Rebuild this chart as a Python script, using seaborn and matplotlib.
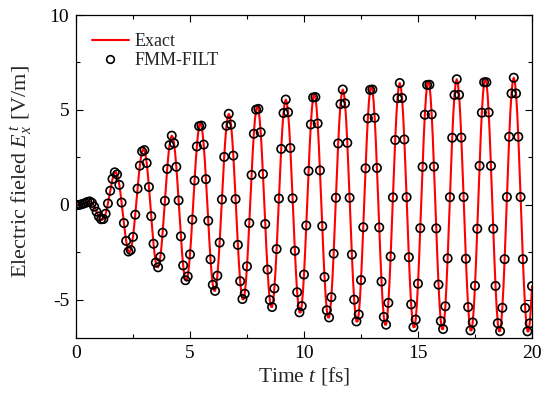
import numpy as np
import pandas as pd
import matplotlib
matplotlib.use("Agg")
import matplotlib.pyplot as plt
from matplotlib.lines import Line2D
from matplotlib.ticker import MultipleLocator
import seaborn as sns

# ---- data ----
t_start, t_end = 0.0, 20.0          # fs
exact_field = [
    0.00, 0.00, 0.00, 0.00, 0.02, 0.03, 0.06, 0.08, 0.10,
    0.12, 0.16, 0.19, 0.19, 0.17, 0.11, 0.03, -0.09, -0.21, -0.35, -0.49, -0.60, -0.69, -0.75, -0.78, -0.74, -0.64, -0.46, -0.22, 0.08, 0.41, 0.75, 1.08, 1.37, 1.59,
    1.72, 1.73, 1.61, 1.39, 1.06, 0.63, 0.13, -0.40, -0.95, -1.45, -1.89, -2.24, -2.45, -2.50, -2.37, -2.10, -1.68, -1.13, -0.51, 0.17, 0.86, 1.51, 2.07, 2.52, 2.82,
    2.95, 2.89, 2.64, 2.21, 1.64, 0.95, 0.20, -0.59, -1.35, -2.04, -2.61, -3.03, -3.26, -3.28, -3.11, -2.73, -2.17, -1.46, -0.65, 0.22, 1.08, 1.90, 2.60, 3.15, 3.51,
    3.65, 3.56, 3.25, 2.72, 2.01, 1.17, 0.24, -0.72, -1.65, -2.49, -3.18, -3.68, -3.96, -3.98, -3.76, -3.28, -2.60, -1.75, -0.77, 0.26, 1.29, 2.26, 3.08, 3.72, 4.15,
    4.30, 4.18, 3.80, 3.18, 2.35, 1.36, 0.28, -0.83, -1.90, -2.86, -3.64, -4.20, -4.50, -4.52, -4.26, -3.72, -2.94, -1.98, -0.87, 0.29, 1.45, 2.53, 3.46, 4.17, 4.63,
    4.80, 4.67, 4.23, 3.54, 2.60, 1.51, 0.31, -0.92, -2.10, -3.15, -4.01, -4.63, -4.95, -4.97, -4.67, -4.08, -3.23, -2.16, -0.95, 0.32, 1.58, 2.75, 3.75, 4.53, 5.02,
    5.20, 5.06, 4.58, 3.83, 2.82, 1.63, 0.33, -1.00, -2.27, -3.40, -4.34, -5.00, -5.35, -5.37, -5.04, -4.39, -3.47, -2.32, -1.02, 0.34, 1.70, 2.95, 4.02, 4.84, 5.37,
    5.55, 5.39, 4.88, 4.08, 3.00, 1.73, 0.35, -1.06, -2.41, -3.61, -4.59, -5.28, -5.65, -5.66, -5.32, -4.64, -3.66, -2.45, -1.08, 0.36, 1.79, 3.11, 4.24, 5.11, 5.66,
    5.85, 5.68, 5.14, 4.29, 3.16, 1.82, 0.37, -1.11, -2.52, -3.79, -4.81, -5.54, -5.92, -5.92, -5.56, -4.85, -3.82, -2.56, -1.13, 0.38, 1.87, 3.24, 4.41, 5.31, 5.88,
    6.08, 5.90, 5.35, 4.45, 3.27, 1.89, 0.38, -1.15, -2.61, -3.92, -4.98, -5.74, -6.13, -6.13, -5.76, -5.02, -3.95, -2.64, -1.17, 0.39, 1.93, 3.34, 4.56, 5.48, 6.06,
    6.27, 6.08, 5.50, 4.59, 3.38, 1.95, 0.40, -1.18, -2.69, -4.03, -5.12, -5.89, -6.30, -6.30, -5.91, -5.15, -4.06, -2.71, -1.20, 0.40, 1.97, 3.42, 4.67, 5.62, 6.21,
    6.42, 6.22, 5.63, 4.69, 3.45, 1.99, 0.41, -1.21, -2.75, -4.12, -5.23, -6.02, -6.43, -6.43, -6.03, -5.25, -4.14, -2.77, -1.22, 0.41, 2.01, 3.49, 4.75, 5.71, 6.32,
    6.53, 6.33, 5.73, 4.77, 3.51, 2.02, 0.41, -1.23, -2.79, -4.19, -5.32, -6.11, -6.53, -6.53, -6.12, -5.33, -4.20, -2.81, -1.24, 0.41, 2.04, 3.54, 4.82, 5.79, 6.41,
    6.62, 6.41, 5.80, 4.83, 3.55, 2.05, 0.42, -1.24, -2.83, -4.23, -5.37, -6.18, -6.60, -6.60, -6.18, -5.39, -4.25, -2.84, -1.25, 0.42, 2.06, 3.57, 4.86, 5.84, 6.46,
    6.67, 6.46, 5.85, 4.87, 3.58, 2.06, 0.42, -1.25, -2.84, -4.26, -5.41, -6.22, -6.64, -6.64, -6.22, -5.41, -4.26, -2.85, -1.26, 0.42, 2.07, 3.59, 4.88, 5.87, 6.49,
    6.70, 6.49, 5.87, 4.88, 3.59, 2.07, 0.42, -1.26, -2.85, -4.27, -5.42, -6.23, -6.65, -6.65, -6.23, -5.42, -4.27,
]
x_ticks = [0, 5, 10, 15, 20]
y_ticks = [-5, 0, 5, 10]
series_names = ["Exact", "FMM-FILT"]

t_exact = np.linspace(t_start, t_end, len(exact_field))
df_exact = pd.DataFrame({"t": t_exact, "E": exact_field})
df_fmm = df_exact.iloc[::2].reset_index(drop=True)   # FMM-FILT samples every 0.1 fs

# ---- style ----
sns.set_style("ticks")
plt.rcParams["font.family"] = ["Liberation Serif", "DejaVu Serif"]
plt.rcParams["mathtext.fontset"] = "custom"
plt.rcParams["mathtext.rm"] = "Liberation Serif"
plt.rcParams["mathtext.it"] = "Liberation Serif:italic"
plt.rcParams["axes.unicode_minus"] = False

fig = plt.figure(figsize=(5.51, 3.96), dpi=100)
ax = fig.add_axes([76 / 551, 1 - 338 / 396, (532 - 76) / 551, (338 - 15) / 396])

sns.lineplot(data=df_exact, x="t", y="E", ax=ax, color="#ff0000", linewidth=1.5,
             zorder=2, legend=False)
sns.scatterplot(data=df_fmm, x="t", y="E", ax=ax, marker="o", s=36,
                facecolors="none", edgecolor="black", linewidth=1.2,
                zorder=3, legend=False)

ax.set_xlim(0, 20)
ax.set_ylim(-7, 10)
ax.set_xticks(x_ticks)
ax.set_yticks(y_ticks)
ax.xaxis.set_minor_locator(MultipleLocator(2.5))
ax.yaxis.set_minor_locator(MultipleLocator(2.5))
ax.tick_params(which="both", direction="in", top=True, right=True,
               colors="black", width=0.8)
ax.tick_params(which="major", length=5, labelsize=14, pad=5)
ax.tick_params(which="minor", length=3)
for sp in ax.spines.values():
    sp.set_color("black")
    sp.set_linewidth(0.9)

ax.set_xlabel("Time $t$ [fs]", fontsize=15.5, labelpad=2)
ax.set_ylabel("Electric fieled $E_x^{\\,t}$ [V/m]", fontsize=16)
ax.yaxis.set_label_coords(-0.09, 0.515)

handles = [
    Line2D([0], [0], color="#ff0000", linewidth=1.5),
    Line2D([0], [0], linestyle="none", marker="o", markersize=5.5,
           markerfacecolor="none", markeredgecolor="black", markeredgewidth=1.2),
]
ax.legend(handles, series_names, loc="upper left", frameon=False, fontsize=13,
          handlelength=2.05, handletextpad=0.3, labelspacing=0.08,
          borderaxespad=0.0, borderpad=0.0, bbox_to_anchor=(0.035, 0.943))

fig.savefig("out.png", dpi=100)
